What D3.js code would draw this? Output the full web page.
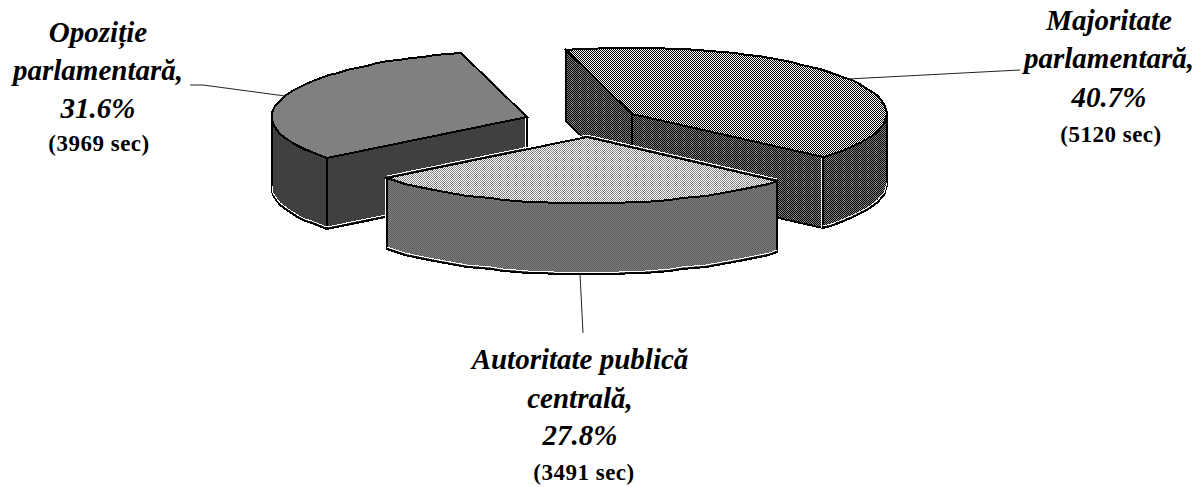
<!DOCTYPE html>
<html>
<head>
<meta charset="utf-8">
<script src="https://d3js.org/d3.v7.min.js"></script>
<style>
  html, body { margin: 0; padding: 0; background: #fff; }
  svg { display: block; }
  text { font-family: "Liberation Serif", serif; fill: #000; text-anchor: middle; }
  .big { font-size: 29px; font-weight: bold; font-style: italic; }
  .small { font-size: 23px; font-weight: bold; letter-spacing: 0.5px; }
  .slice path { shape-rendering: crispEdges; }
</style>
</head>
<body>
<script>
// Chart values
var names = ["Majoritate", "Autoritate", "Opozitie"];
var seconds = [5120, 3491, 3969];
var labels = [
    ["Majoritate", "parlamentară,", "40.7%"],
    ["Autoritate publică", "centrală,", "27.8%"],
    ["Opoziție", "parlamentară,", "31.6%"]
];
var secLabels = ["(5120 sec)", "(3491 sec)", "(3969 sec)"];

var width = 1203, height = 487;

// fake 3d pie settings
var cx = 583, cy = 121.5, rx = 255, ry = 66, depth = 71, explode = 0.224;
var nudgeX = [0, 5, -2], nudgeY = [0, 1, 0];
var toRad = Math.PI / 180;

var svg = d3.select("body").append("svg")
    .attr("width", width)
    .attr("height", height);

// 1px dither patterns like the old office chart
var patterns = [
    { id: "majTop", a: "#fff", b: "#000" },
    { id: "majSide", a: "#808080", b: "#000" },
    { id: "autTop", a: "#fff", b: "#808080" },
    { id: "autSide", a: "#808080", b: "#5a5a5a" }
];
var defs = svg.append("defs");
patterns.forEach(function(p) {
    var pat = defs.append("pattern")
        .attr("id", p.id)
        .attr("patternUnits", "userSpaceOnUse")
        .attr("width", 2)
        .attr("height", 2);
    pat.append("rect").attr("width", 2).attr("height", 2).attr("fill", p.a).attr("shape-rendering", "crispEdges");
    pat.append("rect").attr("width", 1).attr("height", 1).attr("fill", p.b).attr("shape-rendering", "crispEdges");
    pat.append("rect").attr("x", 1).attr("y", 1).attr("width", 1).attr("height", 1).attr("fill", p.b).attr("shape-rendering", "crispEdges");
});
var topFill = ["url(#majTop)", "url(#autTop)", "#808080"];
var sideFill = ["url(#majSide)", "url(#autSide)", "#404040"];

// pie starts a bit left of 12 o'clock
var pie = d3.pie().sort(null).startAngle(-15 * toRad).endAngle(345 * toRad);
var slices = pie(seconds);

var line = d3.line();

// project a pie angle on the tilted ellipse
function center(d) {
    var mid = (d.startAngle + d.endAngle) / 2;
    return [cx + nudgeX[d.index] + rx * explode * Math.sin(mid), cy + nudgeY[d.index] - ry * explode * Math.cos(mid)];
}
function rim(d, a) {
    var c = center(d);
    return [Math.round(c[0] + rx * Math.sin(a)), Math.round(c[1] - ry * Math.cos(a))];
}
function arcPoints(d, a0, a1) {
    var pts = [], n = Math.max(2, Math.ceil((a1 - a0) / (3 * toRad)));
    d3.range(n + 1).forEach(function(i) {
        pts.push(rim(d, a0 + (a1 - a0) * i / n));
    });
    return pts;
}
function down(p) { return [p[0], p[1] + depth]; }

function whiteLine(g, pts, dx, dy) {
    g.append("path")
        .attr("d", line(pts))
        .attr("transform", "translate(" + dx + "," + dy + ")")
        .attr("fill", "none").attr("stroke", "#fff").attr("stroke-width", 1);
}

// back slice first, front slice last
var order = [2, 0, 1];
order.forEach(function(i) {
    var d = slices[i];
    var c = center(d).map(Math.round);
    var g = svg.append("g").attr("class", "slice");
    var start = rim(d, d.startAngle), end = rim(d, d.endAngle);

    // cut faces
    if (Math.sin(d.startAngle) < 0) {
        g.append("path")
            .attr("d", line([c, start, down(start), down(c)]) + "Z")
            .attr("fill", sideFill[i]).attr("stroke", "#000").attr("stroke-width", 2);
    }
    if (Math.sin(d.endAngle) > 0) {
        g.append("path")
            .attr("d", line([c, end, down(end), down(c)]) + "Z")
            .attr("fill", sideFill[i]).attr("stroke", "#000").attr("stroke-width", 2);
    }

    // outer wall, only the part looking at the viewer
    var a0 = Math.max(d.startAngle, 90 * toRad), a1 = Math.min(d.endAngle, 270 * toRad);
    var wallPts = [], bottomPts = [];
    if (a1 > a0) {
        wallPts = arcPoints(d, a0, a1);
        bottomPts = wallPts.map(down);
        g.append("path")
            .attr("d", line(wallPts.concat(bottomPts.slice().reverse())) + "Z")
            .attr("fill", sideFill[i]).attr("stroke", "#000").attr("stroke-width", 2);
    }

    // white highlight just inside the lower edges
    if (bottomPts.length) whiteLine(g, bottomPts, 0, -2);
    if (i == 0) whiteLine(g, [end, down(end)], -2, 0);
    if (i == 1) whiteLine(g, [end, down(end)], -2, 0);
    if (i == 2) {
        whiteLine(g, [down(start), down(c)], 0, -2);
        whiteLine(g, [c, down(c)], -2, 0);
    }

    // top face
    g.append("path")
        .attr("d", line([c].concat(arcPoints(d, d.startAngle, d.endAngle))) + "Z")
        .attr("fill", topFill[i]).attr("stroke", "#000").attr("stroke-width", 2);

    if (i == 1) whiteLine(g, [start, c, end], 0, -2);
});

// leader lines, from the rim at the middle of each slice to the label
var leaderEnds = [[[1020, 70]], [[583, 333]], [[203, 85], [190, 85]]];
slices.forEach(function(d, i) {
    var p = rim(d, (d.startAngle + d.endAngle) / 2);
    if (i == 1) p = down(p);
    svg.append("path")
        .attr("d", line([p].concat(leaderEnds[i])))
        .attr("fill", "none")
        .attr("stroke", "#222")
        .attr("stroke-width", 1);
});

// labels: center x and baselines
var labelX = [1109, 580, 98];
var secX = [1111, 584, 99];
var labelY = [[30, 68, 107, 142], [369, 408, 445, 480], [42, 80, 118, 151]];
labels.forEach(function(lines, i) {
    lines.forEach(function(t, j) {
        svg.append("text").attr("class", "big").attr("x", labelX[i]).attr("y", labelY[i][j]).text(t);
    });
    svg.append("text").attr("class", "small").attr("x", secX[i]).attr("y", labelY[i][3]).text(secLabels[i]);
});
</script>
</body>
</html>
